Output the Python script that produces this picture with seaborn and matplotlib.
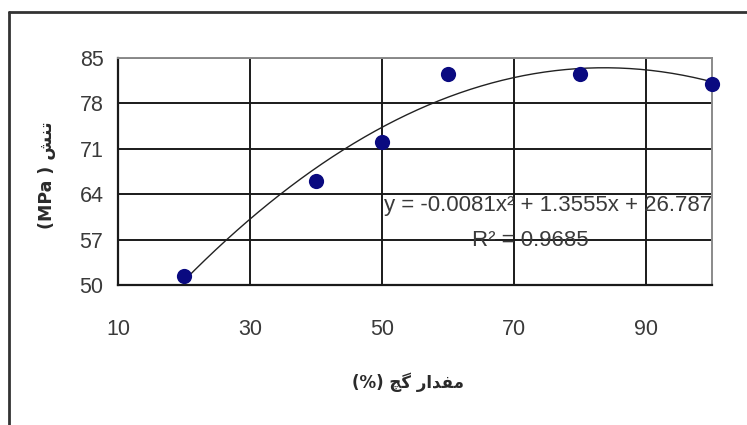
import numpy as np
import pandas as pd
import matplotlib
matplotlib.use("Agg")
import matplotlib.pyplot as plt
from matplotlib.lines import Line2D
import seaborn as sns

# Gypsum content (%) and measured stress (MPa)
gypsum_pct = [20, 40, 50, 60, 80, 100]
stress_mpa = [51.4, 66.1, 72.1, 82.6, 82.6, 81.0]

# Quadratic trendline coefficients (a*x^2 + b*x + c) and its R^2
trend_coef = [-0.0081, 1.3555, 26.787]
trend_r2 = 0.9685

x_ticks = [10, 30, 50, 70, 90]
y_ticks = [50, 57, 64, 71, 78, 85]

# Axis titles, pre-shaped Persian in visual order
y_title = "(MPa ) \uFEB6\uFEE8\uFE97"                                   # تنش (MPa)
x_title = "(%) \uFB7B\uFB94 \uFEAD\uFE8D\uFEAA\uFED4\uFEE3"            # مقدار گچ (%)

sns.set_style("white")
plt.rcParams["font.family"] = ["Liberation Sans", "DejaVu Sans"]

df = pd.DataFrame({"x": gypsum_pct, "y": stress_mpa})
xs = np.linspace(min(gypsum_pct), max(gypsum_pct), 200)
trend = pd.DataFrame({"x": xs, "y": np.polyval(trend_coef, xs)})

fig = plt.figure(figsize=(7.47, 4.25), dpi=100)
ax = fig.add_axes([0.158, 0.3294, 0.795, 0.5341])

sns.lineplot(data=trend, x="x", y="y", ax=ax, color="#222222", lw=1.0, zorder=3)
sns.scatterplot(data=df, x="x", y="y", ax=ax, color="#0a0a80", s=120,
                edgecolor="#0a0a80", linewidth=0, zorder=4, clip_on=False)

ax.set_xlim(10, 100)
ax.set_ylim(50, 85)
ax.set_xticks(x_ticks)
ax.set_yticks(y_ticks)
ax.grid(True, color="#1a1a1a", lw=1.4)
ax.set_axisbelow(True)

ax.tick_params(axis="both", direction="inout", length=9, width=1.3,
               color="#1a1a1a", labelcolor="#3a3a3a", labelsize=15.5)
ax.tick_params(axis="x", pad=20)
ax.tick_params(axis="y", pad=6)

for side in ("left", "bottom"):
    ax.spines[side].set_color("#1a1a1a")
    ax.spines[side].set_linewidth(1.6)
for side in ("top", "right"):
    ax.spines[side].set_color("#8a8a8a")
    ax.spines[side].set_linewidth(1.4)

ax.set_xlabel("")
ax.set_ylabel("")

a, b, c = trend_coef
eq = f"y = {a:.4f}x\u00b2 + {b:.4f}x + {c:.3f}"
ax.text(1.0, 0.352, eq, transform=ax.transAxes, ha="right", va="center",
        fontsize=16, color="#3a3a3a", zorder=2)
ax.text(0.694, 0.198, f"R\u00b2 = {trend_r2:.4f}", transform=ax.transAxes,
        ha="center", va="center", fontsize=16, color="#3a3a3a", zorder=2)

fig.text(0.063, 0.588, y_title, rotation=90, ha="center", va="center",
         fontsize=12.5, fontweight="bold", color="#2a2a2a",
         family=["DejaVu Sans"])
fig.text(0.546, 0.101, x_title, ha="center", va="center",
         fontsize=12, fontweight="bold", color="#2a2a2a",
         family=["DejaVu Sans"])

# Chart-area frame (left and top edges)
fig.add_artist(Line2D([0.012, 0.012], [0.0, 0.972], transform=fig.transFigure,
                      color="#333333", lw=2.0))
fig.add_artist(Line2D([0.012, 1.0], [0.972, 0.972], transform=fig.transFigure,
                      color="#333333", lw=2.0))

fig.savefig("out.png", dpi=100)
